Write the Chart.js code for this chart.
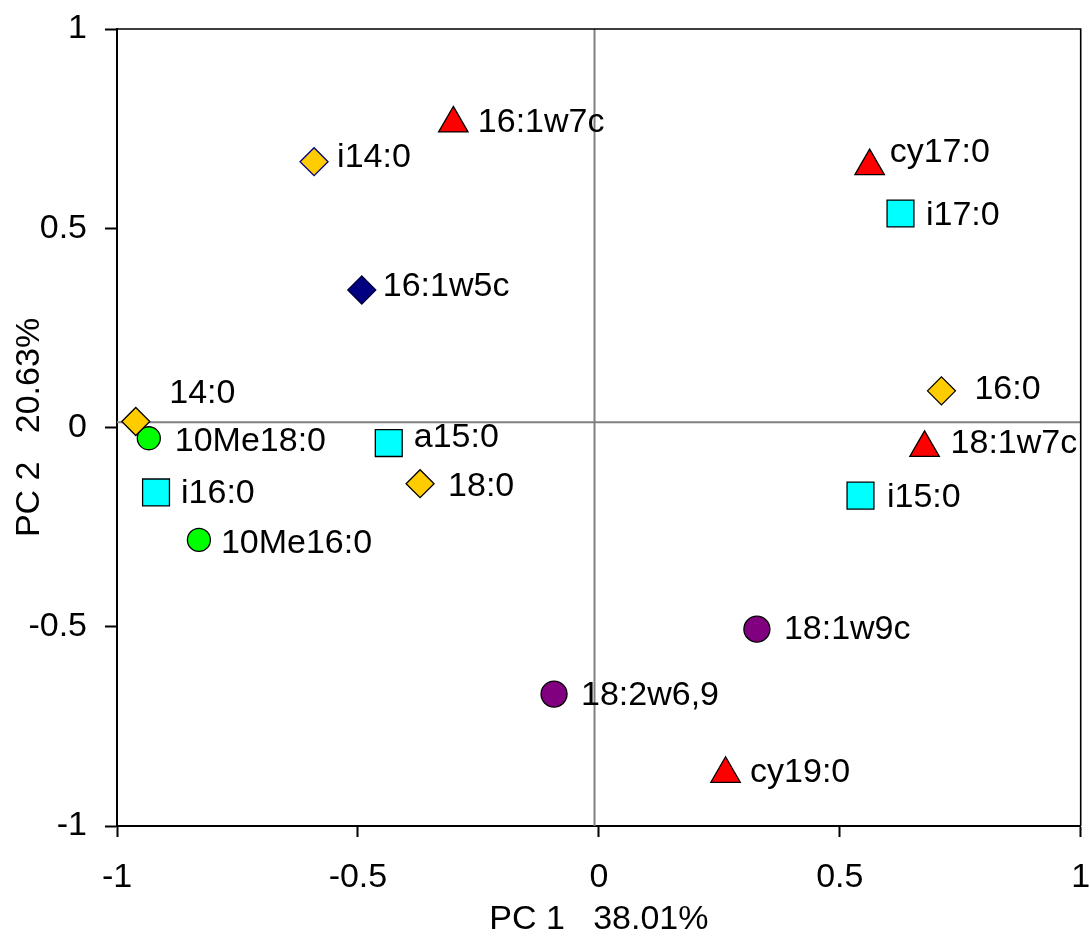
<!DOCTYPE html>
<html>
<head>
<meta charset="utf-8">
<script src="https://cdn.jsdelivr.net/npm/chart.js@4.4.1/dist/chart.umd.min.js"></script>
<style>
  html, body { margin: 0; background: #fff; overflow: hidden; }
  /* a little wider than the window: the layout keeps ~20px on the right */
  #wrap { width: 1101px; height: 938px; }
</style>
</head>
<body>
<div id="wrap"><canvas id="pcaChart"></canvas></div>
<script>
// fatty acid loadings on PC1 / PC2
const names = ['14:0', 'i14:0', '16:0', '18:0', '16:1w5c', '16:1w7c', 'cy17:0', '18:1w7c', 'cy19:0',
               'i17:0', 'a15:0', 'i15:0', 'i16:0', '10Me18:0', '10Me16:0', '18:1w9c', '18:2w6,9'];
const pc1 = [-0.961, -0.591, 0.711, -0.371, -0.492, -0.302, 0.562, 0.676, 0.263,
             0.626, -0.436, 0.543, -0.919, -0.934, -0.830, 0.328, -0.093];
const pc2 = [0.015, 0.667, 0.092, -0.141, 0.345, 0.763, 0.656, -0.051, -0.869,
             0.537, -0.039, -0.171, -0.163, -0.027, -0.282, -0.506, -0.669];
const groups = ['sat', 'iso14', 'sat', 'sat', 'mono5', 'tri', 'tri', 'tri', 'tri',
                'branch', 'branch', 'branch', 'branch', 'methyl', 'methyl', 'poly', 'poly'];

const tickValues = [-1, -0.5, 0, 0.5, 1];
const tickLabels = ['-1', '-0.5', '0', '0.5', '1'];

// grey cross lines as they sit in the original
const crossX = -0.009;
const crossY = 0.013;

// marker look per group
const styles = {
  sat:    { pointStyle: 'rectRot',  radius: 14,  bg: '#FFCC00', border: '#000000' },
  iso14:  { pointStyle: 'rectRot',  radius: 14,  bg: '#FFCC00', border: '#000080' },
  mono5:  { pointStyle: 'rectRot',  radius: 14,  bg: '#000080', border: '#000040' },
  tri:    { pointStyle: 'triangle', radius: 17,  bg: '#FF0000', border: '#000000' },
  branch: { pointStyle: 'rect',     radius: 19,  bg: '#00FFFF', border: '#000000' },
  methyl: { pointStyle: 'circle',   radius: 11.5, bg: '#00FF00', border: '#000000' },
  poly:   { pointStyle: 'circle',   radius: 13,  bg: '#800080', border: '#000000' }
};

// label offsets from the marker centre (px)
const labelOffsets = {
  '14:0': [33.5, -28], 'i14:0': [23, -4], '16:0': [33, -1], '18:0': [28, 3],
  '16:1w5c': [21, -3], '16:1w7c': [24.5, -1], 'cy17:0': [20, -13.5], '18:1w7c': [26, -4],
  'cy19:0': [24.5, -1], 'i17:0': [25.5, 2.5], 'a15:0': [25, -5], 'i15:0': [26.5, 2],
  'i16:0': [25, 1], '10Me18:0': [26, 3], '10Me16:0': [22, 4], '18:1w9c': [27, 0], '18:2w6,9': [27, 2]
};

const FONT = "'Liberation Sans', Arial, Helvetica, sans-serif";
Chart.defaults.font.family = FONT;
Chart.defaults.font.size = 34;
Chart.defaults.color = '#000';

const datasets = [];
Object.keys(styles).forEach(function (g) {
  const s = styles[g];
  const pts = [];
  for (let i = 0; i < names.length; i++) {
    if (groups[i] === g) pts.push({ x: pc1[i], y: pc2[i], name: names[i] });
  }
  datasets.push({
    label: g,
    data: pts,
    pointStyle: s.pointStyle,
    pointRadius: s.radius,
    pointHoverRadius: s.radius,
    backgroundColor: s.bg,
    borderColor: s.border,
    borderWidth: 1.3,
    order: 1
  });
});

datasets.push({
  label: 'h',
  data: [{ x: -1, y: crossY }, { x: 1, y: crossY }],
  showLine: true,
  borderColor: '#808080', borderWidth: 2, pointRadius: 0, order: 10
});
datasets.push({
  label: 'v',
  data: [{ x: crossX, y: -1 }, { x: crossX, y: 1 }],
  showLine: true,
  borderColor: '#808080', borderWidth: 2, pointRadius: 0, order: 10
});

const pointLabels = {
  id: 'pointLabels',
  afterDatasetsDraw(chart) {
    const ctx = chart.ctx;
    const xs = chart.scales.x, ys = chart.scales.y;
    ctx.save();
    ctx.font = '34px ' + FONT;
    ctx.fillStyle = '#000';
    ctx.textAlign = 'left';
    ctx.textBaseline = 'middle';
    for (let i = 0; i < names.length; i++) {
      const off = labelOffsets[names[i]] || [25, 0];
      const px = xs.getPixelForValue(pc1[i]);
      const py = ys.getPixelForValue(pc2[i]);
      ctx.fillText(names[i], px + off[0], py + off[1]);
    }
    ctx.restore();
  }
};

const frame = {
  id: 'frame',
  afterDraw(chart) {
    const a = chart.chartArea;
    const ctx = chart.ctx;
    ctx.save();
    ctx.strokeStyle = '#000';
    ctx.lineWidth = 1.6;
    ctx.beginPath();
    ctx.moveTo(a.left, a.top);
    ctx.lineTo(a.right, a.top);
    ctx.lineTo(a.right, a.bottom);
    ctx.stroke();
    ctx.restore();
  }
};

function noPad(axis) {
  axis.paddingTop = 0;
  axis.paddingBottom = 0;
  axis.paddingLeft = 0;
  axis.paddingRight = 0;
}

const ctx = document.getElementById('pcaChart').getContext('2d');
const pcaChart = new Chart(ctx, {
  type: 'scatter',
  data: { datasets: datasets },
  plugins: [pointLabels, frame],
  options: {
    responsive: true,
    maintainAspectRatio: false,
    animation: false,
    layout: { padding: { top: 29, right: 9, left: 0, bottom: 0 } },
    plugins: { legend: { display: false }, tooltip: { enabled: false } },
    scales: {
      x: {
        type: 'linear',
        min: -1, max: 1,
        afterBuildTicks: function (axis) { axis.ticks = tickValues.map(v => ({ value: v })); },
        afterFit: function (axis) { axis.height = 112; noPad(axis); },
        ticks: {
          padding: 20,
          callback: function (v) { return tickLabels[tickValues.indexOf(v)]; }
        },
        grid: { drawOnChartArea: false, drawTicks: true, tickLength: 11, tickWidth: 2, tickColor: '#000' },
        border: { display: true, color: '#000', width: 2 },
        title: { display: true, text: 'PC 1   38.01%', padding: { top: 0, bottom: -2.5 } }
      },
      y: {
        type: 'linear',
        min: -1, max: 1,
        afterBuildTicks: function (axis) { axis.ticks = tickValues.map(v => ({ value: v })); },
        afterFit: function (axis) { axis.width = 117; noPad(axis); },
        ticks: {
          padding: 18,
          callback: function (v) { return tickLabels[tickValues.indexOf(v)]; }
        },
        grid: { drawOnChartArea: false, drawTicks: true, tickLength: 12, tickWidth: 2, tickColor: '#000' },
        border: { display: true, color: '#000', width: 2 },
        title: { display: true, text: 'PC 2   20.63%', padding: { top: 9, bottom: 0 } }
      }
    }
  }
});
</script>
</body>
</html>
